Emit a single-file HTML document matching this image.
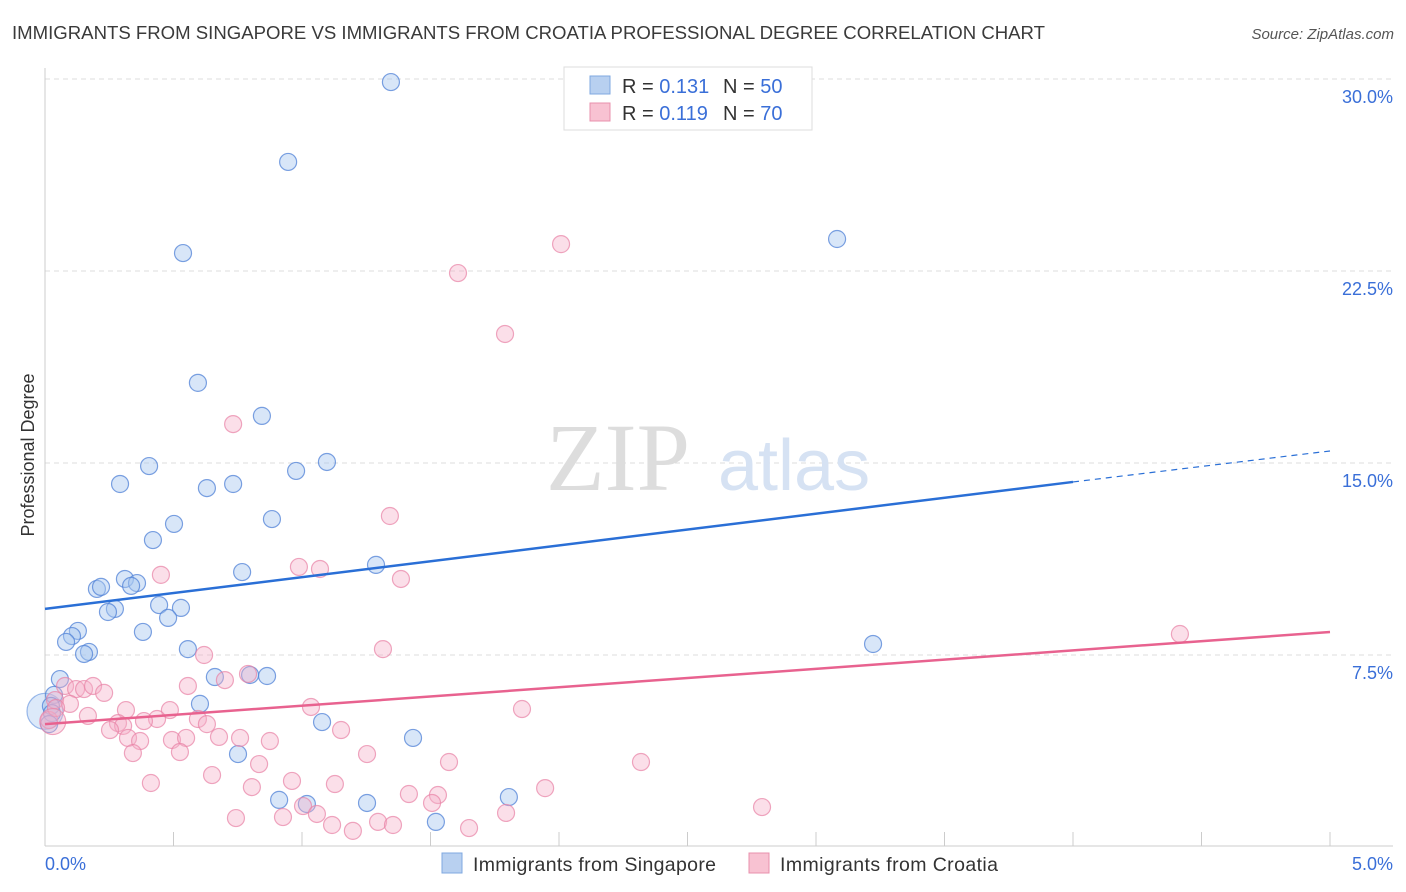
<!DOCTYPE html>
<html><head><meta charset="utf-8"><style>
html,body{margin:0;padding:0;background:#fff;}
svg{display:block;font-family:"Liberation Sans",sans-serif;}
</style></head><body>
<svg id="chart" width="1406" height="892" viewBox="0 0 1406 892">
<text x="12" y="39" font-size="18" fill="#3a3a3a" textLength="1033" lengthAdjust="spacingAndGlyphs">IMMIGRANTS FROM SINGAPORE VS IMMIGRANTS FROM CROATIA PROFESSIONAL DEGREE CORRELATION CHART</text>
<text x="1394" y="39" font-size="15" fill="#555" text-anchor="end" font-style="italic">Source: ZipAtlas.com</text>
<g id="grid"></g>
<text x="690" y="490" font-size="96" fill="#ddd" text-anchor="end" font-family="Liberation Serif,serif">ZIP</text>
<text x="718" y="490" font-size="72" fill="#d6e2f3">atlas</text>
<g id="axes"></g>
<g id="pts"></g>
<g id="trends"></g>
<text x="34" y="455" font-size="18" fill="#333" text-anchor="middle" transform="rotate(-90 34 455)">Professional Degree</text>
<g>
<rect x="564" y="67" width="248" height="63" fill="#fff" stroke="#ddd"/>
<rect x="590" y="76" width="20" height="18" fill="#b8d0f0" stroke="#7fa8e0"/>
<rect x="590" y="103" width="20" height="18" fill="#f8c2d2" stroke="#e890ac"/>
<text x="622" y="93" font-size="20" fill="#333">R = <tspan fill="#3a6fd8">0.131</tspan></text>
<text x="723" y="93" font-size="20" fill="#333">N = <tspan fill="#3a6fd8">50</tspan></text>
<text x="622" y="120" font-size="20" fill="#333">R = <tspan fill="#3a6fd8">0.119</tspan></text>
<text x="723" y="120" font-size="20" fill="#333">N = <tspan fill="#3a6fd8">70</tspan></text>
</g>
<g>
<rect x="442" y="853" width="20" height="20" fill="#b8d0f0" stroke="#7fa8e0"/>
<text x="473" y="871" font-size="19.5" fill="#333" textLength="243">Immigrants from Singapore</text>
<rect x="749" y="853" width="20" height="20" fill="#f8c2d2" stroke="#e890ac"/>
<text x="780" y="871" font-size="19.5" fill="#333" textLength="218">Immigrants from Croatia</text>
</g>
</svg>
<script>
const yTicks=[7.5,15,22.5,30];
const yTickLabels=["7.5%","15.0%","22.5%","30.0%"];
const xTickLabels=["0.0%","5.0%"];
const blueX=[1.346,0.946,0.537,3.082,0.595,0.844,0.405,0.292,0.977,1.097,0.630,0.732,0.502,0.883,0.420,1.288,0.767,0.311,0.202,0.218,0.358,0.335,0.444,0.529,0.272,0.245,0.479,0.381,0.128,0.105,0.082,0.171,0.152,0.556,3.222,0.058,0.661,0.798,0.864,0.035,0.023,0.027,0.603,1.078,0.016,1.432,0.751,0.911,1.019,1.253,1.805,1.521];
const blueY=[29.88,26.76,23.20,23.75,18.13,16.84,14.88,14.18,14.69,15.04,14.02,14.18,12.62,12.81,11.99,11.02,10.74,10.47,10.08,10.16,10.31,10.20,9.45,9.34,9.30,9.18,8.95,8.40,8.44,8.24,8.01,7.62,7.54,7.73,7.93,6.56,6.64,6.72,6.68,5.94,5.51,5.23,5.59,4.88,4.80,4.26,3.63,1.84,1.68,1.72,1.95,0.98];
const pinkX=[2.008,1.607,1.790,0.732,1.342,0.451,0.988,1.070,1.385,1.315,0.619,0.700,0.790,0.556,0.078,0.121,0.152,0.187,0.230,0.039,0.097,1.035,1.856,0.486,0.315,0.167,0.595,0.436,0.385,0.284,0.304,0.630,0.253,1.152,0.677,0.759,0.323,0.370,0.494,0.549,0.875,0.342,0.525,1.253,1.572,2.319,0.650,0.833,0.961,1.128,0.412,0.805,1.416,1.529,1.946,1.506,1.004,2.790,1.058,1.794,0.743,0.926,1.296,1.354,1.117,1.198,1.650,4.416,0.016,0.043];
const pinkY=[23.55,22.42,20.04,16.52,12.93,10.63,10.94,10.86,10.47,7.73,7.50,6.52,6.76,6.29,6.29,6.17,6.17,6.29,6.02,5.74,5.59,5.47,5.39,5.35,5.35,5.12,5.00,5.00,4.92,4.84,4.73,4.80,4.57,4.57,4.30,4.26,4.26,4.14,4.18,4.26,4.14,3.67,3.71,3.63,3.32,3.32,2.81,3.24,2.58,2.46,2.50,2.34,2.07,2.03,2.30,1.72,1.60,1.56,1.29,1.33,1.13,1.17,0.98,0.86,0.86,0.63,0.74,8.32,4.96,5.43];
const blueTrend=[9.30,14.26,15.47];
const pinkTrend=[4.80,8.40];
const NS='http://www.w3.org/2000/svg';
const X=v=>45+v*257;
const Y=v=>847-v*25.6;
function mk(t,a,p){const e=document.createElementNS(NS,t);for(const k in a)e.setAttribute(k,a[k]);p.appendChild(e);return e;}
const grid=document.getElementById('grid'),axes=document.getElementById('axes');
yTicks.forEach((t,i)=>{
 const l=mk('line',{x1:45,x2:1393,y1:Y(t),y2:Y(t),stroke:'#ddd','stroke-dasharray':'5,4'},grid);
 
 
 const tx=mk('text',{x:1393,y:Y(t)+24,'font-size':18,fill:'#3a6fd8','text-anchor':'end'},axes);
 tx.textContent=yTickLabels[i];
 
 
});
mk('line',{x1:45,x2:45,y1:68,y2:846,stroke:'#ccc'},axes);
mk('line',{x1:45,x2:1393,y1:846,y2:846,stroke:'#ccc'},axes);
for(let i=0;i<=10;i++){const l=mk('line',{x1:X(i*0.5),x2:X(i*0.5),y1:846,y2:832,stroke:'#ccc'},axes);
 
 }
[0,5].forEach((v,i)=>{const t=mk('text',{x:i?1393:45,y:870,'font-size':18,fill:'#3a6fd8','text-anchor':i?'end':'start'},axes);
 t.textContent=xTickLabels[i];
 
 });
const pts=document.getElementById('pts');
function dot(x,y,r,fill,stroke,name){const c=mk('circle',{cx:X(x),cy:Y(y),r:r,fill:fill,stroke:stroke,'stroke-width':1.2},pts);
 
 }
dot(0.0,5.3,18,'rgba(168,200,240,0.4)','rgba(90,140,220,0.6)','singapore-point-large');
blueX.forEach((x,i)=>dot(x,blueY[i],8.5,'rgba(168,200,240,0.45)','rgba(80,130,215,0.75)','singapore-point'));
pinkX.forEach((x,i)=>dot(x,pinkY[i],8.5,'rgba(245,175,200,0.4)','rgba(232,130,165,0.7)','croatia-point'));
dot(0.03,4.9,13,'rgba(245,175,200,0.4)','rgba(232,130,165,0.7)','croatia-point-large');
const tr=document.getElementById('trends');
let l=mk('line',{x1:X(0),y1:Y(blueTrend[0]),x2:X(4),y2:Y(blueTrend[1]),stroke:'#2a6fd6','stroke-width':2.5},tr);


l=mk('line',{x1:X(4),y1:Y(blueTrend[1]),x2:X(5),y2:Y(blueTrend[2]),stroke:'#2a6fd6','stroke-width':1.2,'stroke-dasharray':'6,5'},tr);


l=mk('line',{x1:X(0),y1:Y(pinkTrend[0]),x2:X(5),y2:Y(pinkTrend[1]),stroke:'#e8628f','stroke-width':2.5},tr);


</script>
</body></html>
